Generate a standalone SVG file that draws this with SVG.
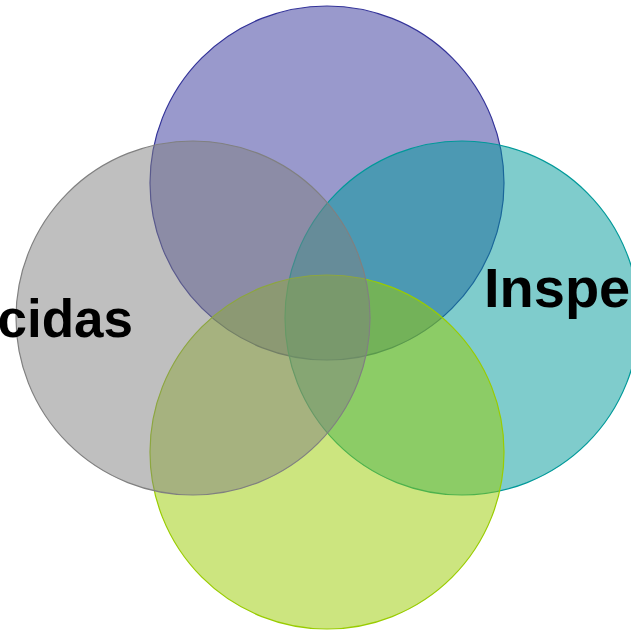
<svg xmlns="http://www.w3.org/2000/svg" width="631" height="630" viewBox="0 0 631 630">
<style>
.c{stroke-width:1.2;fill-opacity:0.5}
.t{font-family:"Liberation Sans",Arial,sans-serif;font-weight:bold;fill:#000}
</style>
<rect width="631" height="630" fill="#fff"/>
<g id="top"><circle class="c" cx="327" cy="183" r="177" fill="#333399" stroke="#333399"/></g>
<g id="right"><circle class="c" cx="462" cy="318" r="177" fill="#009999" stroke="#009999"/><text class="t" x="484" y="307" font-size="56">Inspec</text></g>
<g id="bottom"><circle class="c" cx="327" cy="452" r="177" fill="#99cc00" stroke="#99cc00"/></g>
<g id="left"><circle class="c" cx="193" cy="318" r="177" fill="#808080" stroke="#808080"/><text class="t" x="133" y="337" font-size="53" text-anchor="end">cidas</text></g>
<g id="connectors"/>
</svg>
